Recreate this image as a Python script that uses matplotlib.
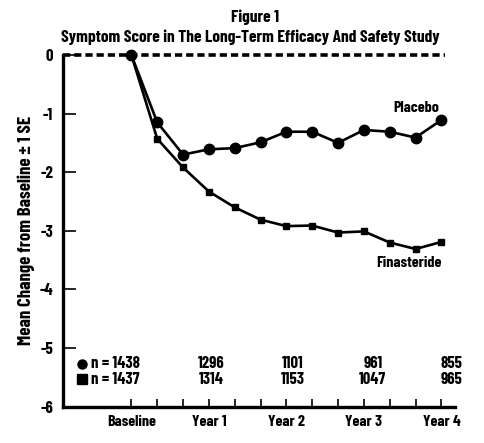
import matplotlib
matplotlib.use("Agg")
import matplotlib.pyplot as plt

plt.rcParams['font.family'] = ['Barlow Condensed', 'Liberation Sans', 'DejaVu Sans']
plt.rcParams['font.weight'] = 'bold'
plt.rcParams['axes.labelweight'] = 'bold'

# months since baseline (visits every 4 months)
months = [0, 4, 8, 12, 16, 20, 24, 28, 32, 36, 40, 44, 48]
placebo = [0, -1.15, -1.70, -1.61, -1.59, -1.49, -1.31, -1.31, -1.50, -1.28, -1.31, -1.41, -1.11]
finasteride = [0, -1.43, -1.92, -2.33, -2.60, -2.81, -2.92, -2.91, -3.03, -3.01, -3.20, -3.31, -3.19]

tick_months = [0, 4, 8, 12, 16, 20, 24, 28, 32, 36, 40, 44, 48]
label_months = [0, 12, 24, 36, 48]
label_names = ['Baseline', 'Year 1', 'Year 2', 'Year 3', 'Year 4']

n_placebo = ['1438', '1296', '1101', '961', '855']
n_finasteride = ['1437', '1314', '1153', '1047', '965']

fig = plt.figure(figsize=(4.84, 4.43), dpi=100)
ax = fig.add_axes([0.130, 0.082, 0.810, 0.794])

ax.set_xlim(-10.6, 50.1)
ax.set_ylim(-6, 0)

# dashed zero line
ax.plot([-10.6, 48.5], [0, 0], color='black', lw=2.6, dashes=(2.0, 1.1), clip_on=False, zorder=2)

ax.plot(months, placebo, color='black', lw=1.9, marker='o', ms=7.5, clip_on=False, zorder=4)
ax.plot(months, finasteride, color='black', lw=1.9, marker='s', ms=4.2, clip_on=False, zorder=3)

ax.text(47.7, -0.90, 'Placebo', ha='right', va='center', fontsize=11.5)
ax.text(48, -3.55, 'Finasteride', ha='right', va='center', fontsize=11.5)

# sample sizes
ax.plot([-7.6], [-5.27], marker='o', color='black', ms=6.5, clip_on=False)
ax.plot([-7.6], [-5.53], marker='s', color='black', ms=6.5, clip_on=False)
ax.text(-6.3, -5.27, 'n = ' + n_placebo[0], ha='left', va='center', fontsize=12)
ax.text(-6.3, -5.53, 'n = ' + n_finasteride[0], ha='left', va='center', fontsize=12)
n_x = [12.4, 25.0, 37.4, 49.6]
for xx, a, b in zip(n_x, n_placebo[1:], n_finasteride[1:]):
    ax.text(xx, -5.27, a, ha='center', va='center', fontsize=12)
    ax.text(xx, -5.53, b, ha='center', va='center', fontsize=12)

ax.set_xticks(tick_months)
ax.set_xticklabels([label_names[label_months.index(m)] if m in label_months else '' for m in tick_months])
ax.set_yticks([0, -1, -2, -3, -4, -5, -6])
ax.set_yticklabels(['0', '-1', '-2', '-3', '-4', '-5', '-6'])

ax.tick_params(axis='x', direction='in', length=6, width=1.2, labelsize=11.5, pad=6)
ax.tick_params(axis='y', direction='in', length=9, width=1.2, labelsize=12, pad=7)

for s in ['top', 'right']:
    ax.spines[s].set_visible(False)
ax.spines['left'].set_linewidth(2.4)
ax.spines['bottom'].set_linewidth(2.4)

ax.set_ylabel('Mean Change from Baseline \u00b1 1 SE', fontsize=13.5, labelpad=3)

fig.text(0.527, 0.962, 'Figure 1', ha='center', va='center', fontsize=12.5)
fig.text(0.517, 0.917, 'Symptom Score in The Long-Term Efficacy And Safety Study', ha='center', va='center', fontsize=12.5)

fig.savefig('out.png', dpi=100)
